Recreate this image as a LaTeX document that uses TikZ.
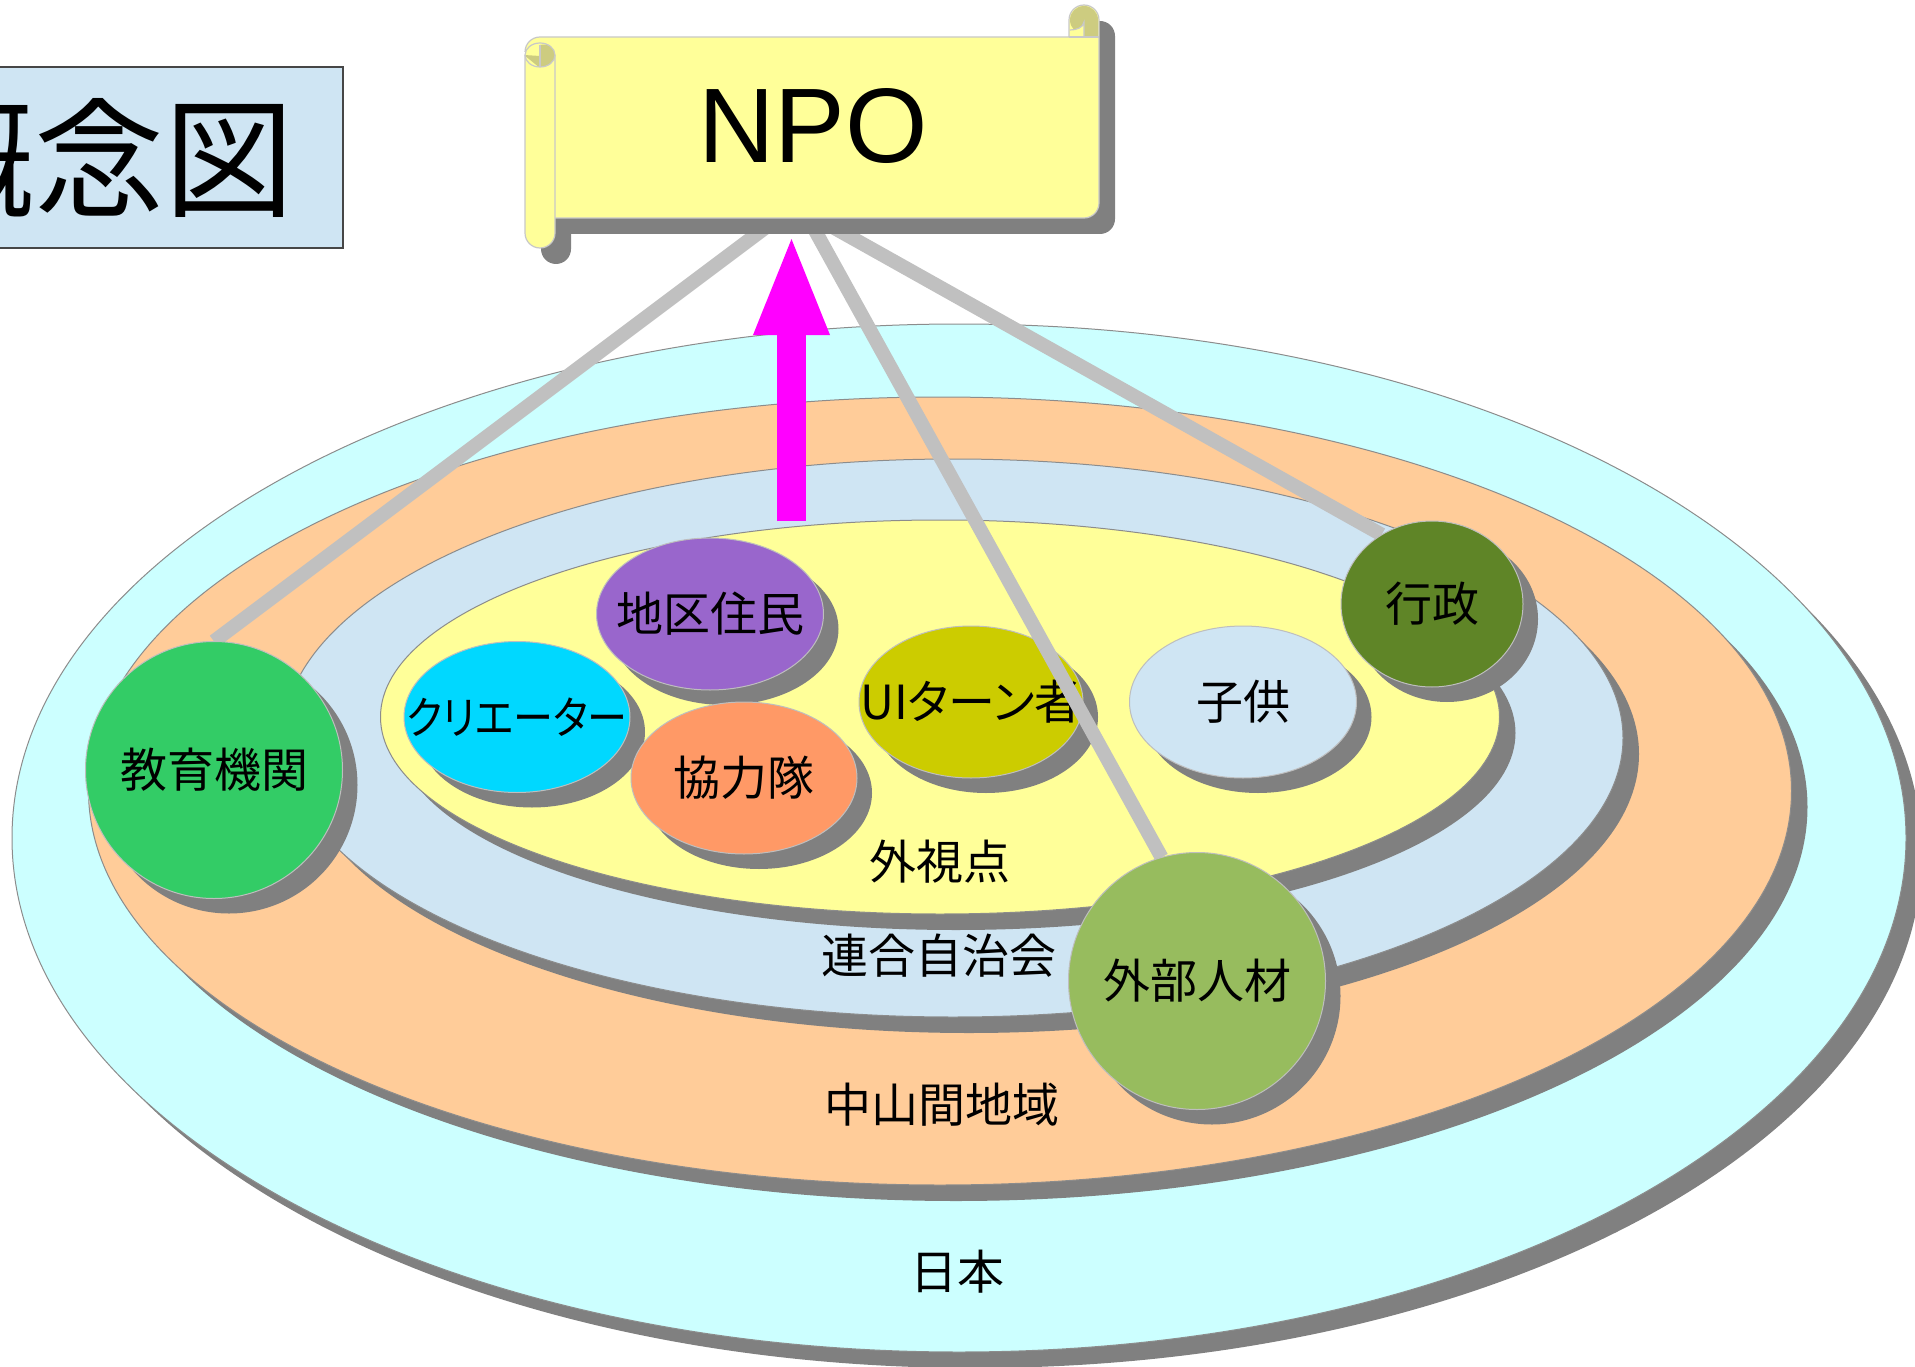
\documentclass[tikz,border=0pt]{standalone}
\usepackage{fontspec}
\usetikzlibrary{shapes.geometric,shadows,arrows.meta}
\newfontfamily\jp{Noto Sans CJK JP}
\newfontfamily\jpp{Noto Sans CJK JP}[RawFeature=+palt]
\newfontfamily\npofont{Liberation Sans}
\definecolor{japanC}{RGB}{204,255,255}
\definecolor{chusanC}{RGB}{255,204,153}
\definecolor{rengoC}{RGB}{207,229,243}
\definecolor{gaiC}{RGB}{255,255,153}
\definecolor{scrollY}{RGB}{255,255,153}
\definecolor{scrollE}{RGB}{200,200,200}
\definecolor{curlC}{RGB}{205,204,128}
\definecolor{shadowC}{RGB}{128,128,128}
\definecolor{bubE}{RGB}{190,190,190}
\definecolor{ringE}{RGB}{140,140,140}
\definecolor{lineC}{RGB}{192,192,192}
\definecolor{titleE}{RGB}{70,70,70}
\definecolor{purpleC}{RGB}{153,102,204}
\definecolor{kuriC}{RGB}{0,216,255}
\definecolor{kyoC}{RGB}{255,153,102}
\definecolor{uiC}{RGB}{204,204,0}
\definecolor{gyoC}{RGB}{95,133,39}
\definecolor{eduC}{RGB}{51,204,102}
\definecolor{extC}{RGB}{151,188,94}
\definecolor{arrowC}{RGB}{255,0,255}
\begin{document}
\begin{tikzpicture}[x=1pt,y=-1pt,
  ring/.style={ellipse, draw=ringE, line width=1pt, inner sep=0pt,
    drop shadow={shadow xshift=16pt, shadow yshift=-16pt, fill=shadowC, opacity=1}},
  bub/.style={ellipse, draw=bubE, line width=1pt, inner sep=0pt,
    drop shadow={shadow xshift=15pt, shadow yshift=-15pt, fill=shadowC, opacity=1}},
  ghost/.style={ellipse, inner sep=0pt},
  lbl/.style={inner sep=0pt, font=\jp\fontsize{47pt}{50pt}\selectfont},
  conn/.style={draw=lineC, line width=14pt},
  scrollfill/.style={fill=scrollY},
  scrolldraw/.style={draw=scrollE, line width=1.2pt}]
\useasboundingbox (0,0) rectangle (1915,1367);
\clip (0,0) rectangle (1915,1367);

% title
\node[draw=titleE, line width=1.2pt, fill=rengoC, minimum width=347pt, minimum height=181pt, inner sep=0pt] (titlebox) at (169.5,157.5) {};
\node[inner sep=0pt, font=\jp\fontsize{130pt}{140pt}\selectfont] (title) at (99.5,158) {概念図};

% rings
\node[ring, fill=japanC, minimum width=1894pt, minimum height=1028pt] (japan) at (959,838) {};
\node[ring, fill=chusanC, minimum width=1703pt, minimum height=788pt] (chusan) at (940,791) {};
\node[ring, fill=rengoC, minimum width=1340pt, minimum height=558pt] (rengo) at (953,738) {};
\node[ring, fill=gaiC, minimum width=1119pt, minimum height=394pt] (gai) at (940,717) {};

\node[lbl] (lab-japan) at (957,1272) {日本};
\node[lbl] (lab-chusan) at (942,1105) {中山間地域};
\node[lbl] (lab-rengo) at (939,956) {連合自治会};
\node[lbl] (lab-gai) at (940,862) {外視点};

% magenta block arrow
\coordinate (arrbase) at (791.5,521);
\coordinate (arrtip) at (791.5,233);
\draw[arrowC, line width=29pt, -{Triangle[length=102pt,width=68pt]}] (arrbase) -- (arrtip);

% inner bubbles
\node[bub, fill=purpleC, minimum width=227pt, minimum height=152pt, label={[lbl]center:地区住民}] (chiku) at (710,614) {};
\node[bub, fill=kuriC, minimum width=226pt, minimum height=151pt, label={[lbl, font=\jpp\fontsize{45pt}{48pt}\selectfont]center:\scalebox{0.89}[1]{クリエーター}}] (kuri) at (517,717) {};
\node[bub, fill=kyoC, minimum width=226pt, minimum height=152pt, label={[lbl]center:協力隊}] (kyo) at (744,778) {};
\node[bub, fill=uiC, minimum width=224pt, minimum height=152pt, label={[lbl, font=\jpp\fontsize{47pt}{50pt}\selectfont]center:UIターン者}] (ui) at (971,702) {};
\node[bub, fill=rengoC, minimum width=227pt, minimum height=152pt, label={[lbl]center:子供}] (kodomo) at (1243,702) {};

% connector end shapes
\coordinate (s1) at (769,225);
\coordinate (s2) at (812,225);
\coordinate (s3) at (829,225);
\node[ghost, minimum width=257pt, minimum height=257pt] (edu0) at (214,770) {};
\node[ghost, minimum width=257pt, minimum height=257pt] (ext0) at (1197,981) {};
\node[ghost, minimum width=182pt, minimum height=166pt] (gyo0) at (1432,604) {};

% connectors
\draw[conn] (s1) -- (edu0.north);
\draw[conn] (s2) -- (ext0.106);
\draw[conn] (s3) -- (gyo0.126);

\node[bub, fill=eduC, minimum width=257pt, minimum height=257pt, label={[lbl]center:教育機関}] (edu) at (214,770) {};
\node[bub, fill=extC, minimum width=257pt, minimum height=257pt, label={[lbl]center:外部人材}] (ext) at (1197,981) {};
\node[bub, fill=gyoC, minimum width=182pt, minimum height=166pt, label={[lbl]center:行政}] (gyo) at (1432,604) {};

% scroll shadow
\begin{scope}[shift={(16,16)}]
\fill[shadowC] (525,52) arc[start angle=180,end angle=90,radius=15pt] -- (1069,37) -- (1069,20) arc[start angle=180,end angle=0,radius=15pt] -- (1099,203) arc[start angle=0,end angle=-90,radius=15pt] -- (525,218) -- cycle;
\fill[shadowC] (525,55) -- (525,233) arc[start angle=180,end angle=360,radius=15pt] -- (555,55) -- cycle;
\end{scope}
% scroll body
\path[scrollfill] (525,52) arc[start angle=180,end angle=90,radius=15pt] -- (1069,37) -- (1069,20) arc[start angle=180,end angle=0,radius=15pt] -- (1099,203) arc[start angle=0,end angle=-90,radius=15pt] -- (525,218) -- cycle;
% right curl
\fill[curlC] (1084,20) circle (14pt);
\fill[curlC] (1084,20) rectangle (1098,36);
\fill[scrollY] (1070,37) -- (1070,30) .. controls (1076,30) and (1083,28) .. (1084,22) -- (1084,37) -- cycle;
\path[scrolldraw] (525,52) arc[start angle=180,end angle=90,radius=15pt] -- (1069,37) -- (1069,20) arc[start angle=180,end angle=0,radius=15pt] -- (1099,203) arc[start angle=0,end angle=-90,radius=15pt] -- (555,218);
\draw[scrollE, line width=1.2pt] (1070,30) .. controls (1076,30) and (1083,28) .. (1084,22) -- (1084,37);
\draw[scrollE, line width=1.2pt] (1069,37) -- (1099,37);
% left roll
\path[scrollfill, scrolldraw] (525,55) -- (525,233) arc[start angle=180,end angle=360,radius=15pt] -- (555,55);
\fill[scrollY] (540,55) ellipse [x radius=15pt, y radius=12pt];
\begin{scope}
\clip (540,55) ellipse [x radius=15pt, y radius=12pt];
\fill[curlC] (540,45) .. controls (548,43) and (556,48) .. (556,56) .. controls (556,63) and (548,67) .. (540,67) -- cycle;
\fill[curlC] (524,55) -- (540,68) -- (540,56) -- cycle;
\end{scope}
\draw[scrollE, line width=1.2pt] (540,55) ellipse [x radius=15pt, y radius=12pt];
\draw[scrollE, line width=1.2pt] (540,45) -- (540,67);

\node[inner sep=0pt, font=\npofont\fontsize{106pt}{110pt}\selectfont] (npo) at (813,126) {NPO};
\end{tikzpicture}
\end{document}
